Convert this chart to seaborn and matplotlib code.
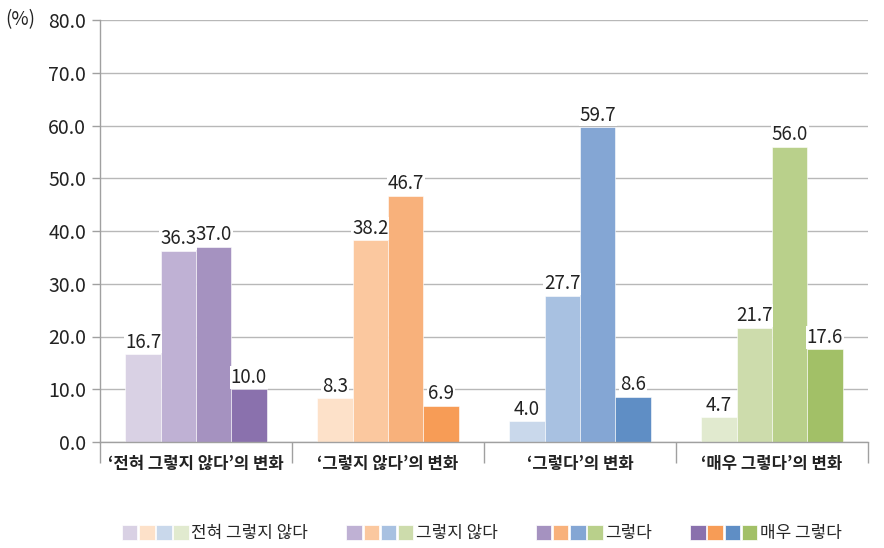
import matplotlib
matplotlib.use("Agg")
import matplotlib.pyplot as plt
from matplotlib.patches import Patch
from matplotlib.legend_handler import HandlerTuple
import numpy as np
import pandas as pd
import seaborn as sns

groups = ["‘전혀 그렇지 않다’의 변화", "‘그렇지 않다’의 변화", "‘그렇다’의 변화", "‘매우 그렇다’의 변화"]
responses = ["전혀 그렇지 않다", "그렇지 않다", "그렇다", "매우 그렇다"]

# values per group, in response order
v_never = [16.7, 36.3, 37.0, 10.0]
v_no = [8.3, 38.2, 46.7, 6.9]
v_yes = [4.0, 27.7, 59.7, 8.6]
v_very = [4.7, 21.7, 56.0, 17.6]

# colour family per group, light -> dark
purple = ["#d9d1e4", "#bfb1d4", "#a592c0", "#8a71ad"]
orange = ["#fde1c9", "#fbc89f", "#f8b17b", "#f79c56"]
blue = ["#c9d8eb", "#a8c1e1", "#84a6d4", "#5f8ec5"]
green = ["#e1eacf", "#cddcac", "#b9d08b", "#a2c067"]
families = [purple, orange, blue, green]

rows = []
for g, vals in zip(groups, [v_never, v_no, v_yes, v_very]):
    for r, v in zip(responses, vals):
        rows.append({"group": g, "response": r, "value": v})
df = pd.DataFrame(rows)

sns.set_style("white")
plt.rcParams["font.family"] = ["Noto Sans CJK KR", "DejaVu Sans"]

fig = plt.figure(figsize=(8.84, 5.48), dpi=100)
ax = fig.add_axes([100 / 884, 1 - 442 / 548, 768 / 884, 422 / 548])

sns.barplot(data=df, x="group", y="value", hue="response", order=groups,
            hue_order=responses, width=0.735, saturation=1, legend=False, ax=ax)

for h, cont in enumerate(ax.containers):
    for g, bar in enumerate(cont):
        bar.set_facecolor(families[g][h])
        bar.set_edgecolor("white")
        bar.set_linewidth(0.4)
    ax.bar_label(cont, labels=[f"{b.get_height():.1f}" for b in cont], padding=1,
                 fontsize=13.5, color="#222222",
                 bbox=dict(facecolor="white", edgecolor="none", pad=0.5))

ax.set_ylim(0, 80)
ax.set_xlim(-0.5, 3.5)
ax.set_yticks(np.arange(0, 81, 10))
ax.set_yticklabels([f"{t:.1f}" for t in np.arange(0, 81, 10)], fontsize=14, color="#222222")
ax.yaxis.grid(True, color="#b8b8b8", lw=1)
ax.set_axisbelow(True)
ax.tick_params(axis="y", length=6, width=1, color="#a0a0a0", pad=4, left=True)

ax.set_xticks([-0.5, 0.5, 1.5, 2.5, 3.5])
ax.set_xticklabels([])
ax.set_xticks([0, 1, 2, 3], minor=True)
ax.set_xticklabels(groups, minor=True, fontsize=12, fontweight="bold", color="#222222")
ax.tick_params(axis="x", which="major", length=15, width=1, color="#a0a0a0", bottom=True)
ax.tick_params(axis="x", which="minor", length=0, pad=9)
ax.set_xlabel("")
ax.set_ylabel("")

for s in ["top", "right"]:
    ax.spines[s].set_visible(False)
for s in ["left", "bottom"]:
    ax.spines[s].set_color("#a0a0a0")
    ax.spines[s].set_linewidth(1)

fig.text(5 / 884, 1 - 20 / 548, "(%)", fontsize=13.5, color="#222222", va="center", ha="left")

handles = []
for h in range(4):
    handles.append(tuple(Patch(facecolor=families[g][h], edgecolor="white", lw=0.5) for g in range(4)))
fig.legend(handles, responses, loc="center", bbox_to_anchor=(0.545, 1 - 533 / 548), ncol=4,
           frameon=False, fontsize=12.2, handlelength=3.95, handleheight=1.0,
           handletextpad=0.15, columnspacing=2.25,
           handler_map={tuple: HandlerTuple(ndivide=None, pad=0.1)})

fig.savefig("out.png", dpi=100)
